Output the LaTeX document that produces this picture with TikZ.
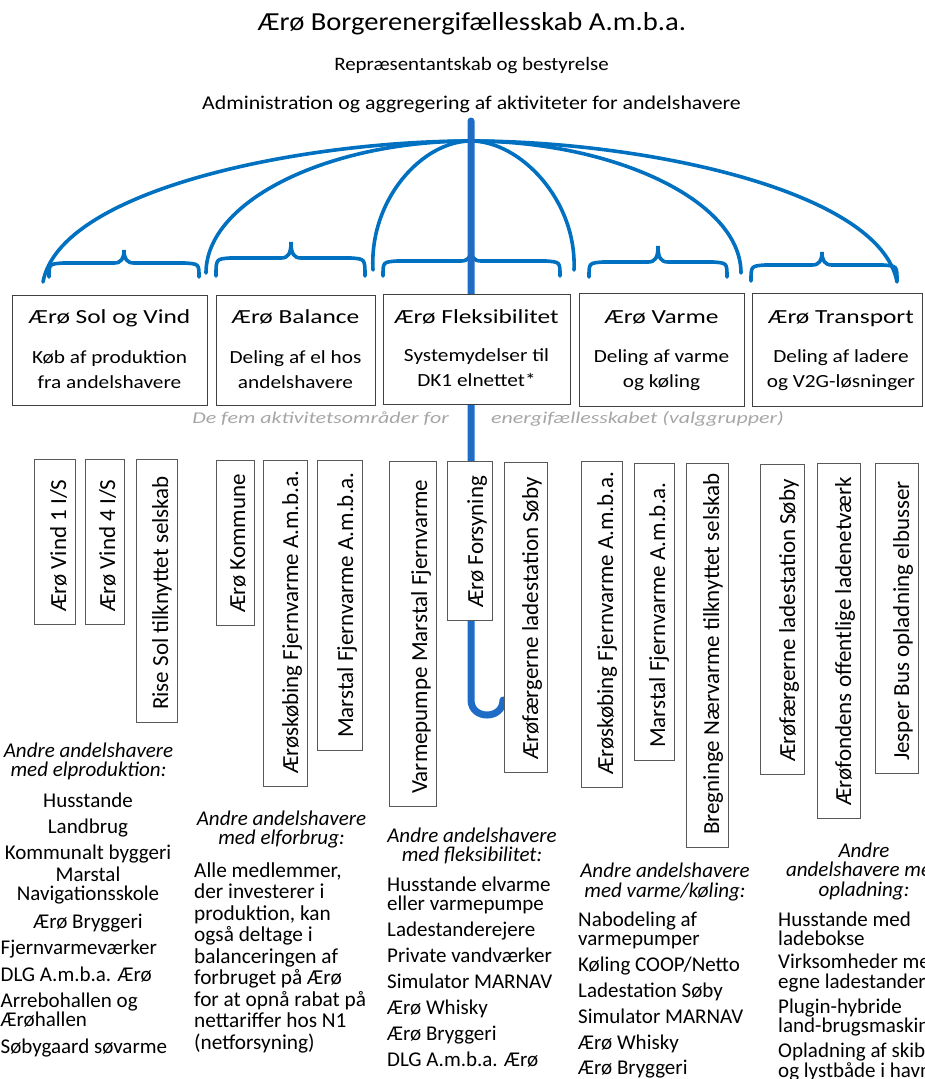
\documentclass[tikz,border=0pt]{standalone}
\usepackage{fontspec}
\setmainfont{Carlito}
\newfontfamily\fTitle{Carlito}[FakeStretch=1.1]
\newfontfamily\fHead{Carlito}[FakeStretch=1.1]
\newfontfamily\fHeadB{Carlito}[FakeStretch=1.12]
\newfontfamily\fBoxT{Carlito}[FakeStretch=1.27]
\newfontfamily\fBoxD{Carlito}[FakeStretch=1.15]
\newfontfamily\fLabel{Carlito}[FakeStretch=1.33]
\definecolor{umb}{HTML}{0070C0}
\definecolor{polec}{HTML}{1F6CC6}
\definecolor{lbl}{HTML}{A6A6A6}
\definecolor{bord}{HTML}{404040}
\definecolor{vbord}{HTML}{595959}
\tikzset{
  rib/.style={draw=umb, line width=3.6pt, line cap=round},
  polestyle/.style={draw=polec, line width=7pt},
  topbox/.style={draw=bord, line width=1pt, fill=white, inner sep=0pt, anchor=north west},
  vbox/.style={draw=vbord, line width=1pt, fill=white, inner sep=0pt},
  vtext/.style={inner sep=0pt, font=\fontsize{23}{23}\selectfont},
  plain/.style={inner sep=0pt},
}
\newcommand{\vb}[6]{%
  \node[vbox, anchor=north west, minimum width={#3-#2}, minimum height={#5-#4}] (#1) at (#2,#4) {};
  \node[vtext, rotate=90, anchor=base west] (#1t) at ({#3-9},{#5-12}) {#6};
}
\newcommand{\brc}[6]{%
  \draw[rib] (#1,#5) .. controls (#1,{#4+1}) .. ({#1+14},#4) -- ({#3-10},#4)
    .. controls ({#3-3},#4) and (#3,{#4-4}) .. (#3,#6)
    .. controls (#3,{#4-4}) and ({#3+3},#4) .. ({#3+10},#4) -- ({#2-14},#4)
    .. controls (#2,{#4+1}) .. (#2,#5);
}
\newcommand{\bt}[3]{% name, center x, title
  \node[plain, anchor=base, font=\fBoxT\fontsize{20}{24}\selectfont] (#1) at (#2,323) {#3};}
\newcommand{\bd}[4]{% name, center x, baseline, text
  \node[plain, anchor=base] (#1) at (#2,#3) {\parbox[t]{170pt}{\centering\fBoxD\fontsize{18.5}{25}\selectfont #4}};}
\begin{document}
\begin{tikzpicture}[x=1pt,y=-1pt]
\useasboundingbox (0,0) rectangle (924,1079);
% header texts
\node[plain, anchor=base, font=\fTitle\fontsize{26}{30}\selectfont] (title) at (472,30) {Ærø Borgerenergifællesskab A.m.b.a.};
\node[plain, anchor=base, font=\fHead\fontsize{19}{22}\selectfont] (repr) at (471.5,70) {Repræsentantskab og bestyrelse};
\node[plain, anchor=base, font=\fHeadB\fontsize{19.5}{22}\selectfont] (admin) at (471.5,109) {Administration og aggregering af aktiviteter for andelshavere};
% umbrella
\coordinate (apex) at (471,141);
\draw[rib] (apex) .. controls (300,141) and (60,190) .. (43,282);
\draw[rib] (apex) .. controls (330,141) and (206,200) .. (206,273);
\draw[rib] (apex) .. controls (422,141) and (369,200) .. (373,270);
\draw[rib] (apex) .. controls (520,141) and (577,200) .. (574,270);
\draw[rib] (apex) .. controls (612,141) and (741,200) .. (741,273);
\draw[rib] (apex) .. controls (642,141) and (880,190) .. (897,282);
\brc{49}{199}{124}{263}{277}{250}
\brc{216}{365}{291}{258}{276}{242}
\brc{383}{560}{471}{261}{276}{249}
\brc{589}{727}{658}{262}{277}{246}
\brc{751}{897}{822}{265}{281}{252}
% pole
\coordinate (poletop) at (471,121);
\coordinate (polebot) at (471,700);
\coordinate (hookend) at (503,700);
\draw[polestyle, line cap=round] (poletop) -- (polebot) .. controls (471,720) and (503,720) .. (hookend);
% top boxes
\node[topbox, minimum width=195pt, minimum height=110pt] (b1) at (12,295) {};
\node[topbox, minimum width=159pt, minimum height=110pt] (b2) at (216,295) {};
\node[topbox, minimum width=187pt, minimum height=110pt] (b3) at (383,294) {};
\node[topbox, minimum width=165pt, minimum height=113pt] (b4) at (579,293) {};
\node[topbox, minimum width=170pt, minimum height=113pt] (b5) at (752,293) {};
\bt{t1}{109.5}{Ærø Sol og Vind}
\bt{t2}{295.5}{Ærø Balance}
\bt{t3}{476.5}{Ærø Fleksibilitet}
\bt{t4}{661.5}{Ærø Varme}
\bt{t5}{841}{Ærø Transport}
\bd{d1}{109.5}{363}{Køb af produktion\\fra andelshavere}
\bd{d2}{295.5}{363}{Deling af el hos\\andelshavere}
\bd{d3}{476.5}{361}{Systemydelser til\\DK1 elnettet*}
\bd{d4}{661.5}{362}{Deling af varme\\og køling}
\bd{d5}{841}{362}{Deling af ladere\\og V2G-løsninger}
\node[plain, anchor=base east, text=lbl, font=\fLabel\itshape\fontsize{16.5}{20}\selectfont] (lblA) at (449,423) {De fem aktivitetsområder for};
\node[plain, anchor=base west, text=lbl, font=\fLabel\itshape\fontsize{16.5}{20}\selectfont] (lblB) at (491,423) {energifællesskabet (valggrupper)};
% vertical boxes
\vb{v1}{34}{75}{459}{624}{Ærø Vind 1 I/S}
\vb{v2}{85}{124}{459}{624}{Ærø Vind 4 I/S}
\vb{v3}{136}{177}{459}{722}{Rise Sol tilknyttet selskab}
\vb{v4}{216}{254}{460}{625}{Ærø Kommune}
\vb{v5}{263}{307}{460}{786}{Ærøskøbing Fjernvarme A.m.b.a.}
\vb{v6}{317}{362}{460}{750}{Marstal Fjernvarme A.m.b.a.}
\vb{v7}{389}{436}{461}{806}{Varmepumpe Marstal Fjernvarme}
\vb{v8}{447}{492}{461}{620}{Ærø Forsyning}
\vb{v9}{504}{547}{462}{772}{Ærøfærgerne ladestation Søby}
\vb{v10}{581}{622}{461}{787}{Ærøskøbing Fjernvarme A.m.b.a.}
\vb{v11}{634}{674}{463}{760}{Marstal Fjernvarme A.m.b.a.}
\vb{v12}{686}{728}{463}{847}{Bregninge Nærvarme tilknyttet selskab}
\vb{v13}{760}{804}{464}{774}{Ærøfærgerne ladestation Søby}
\vb{v14}{817}{860}{463}{818}{Ærøfondens offentlige ladenetværk}
\vb{v15}{875}{918}{463}{773}{Jesper Bus opladning elbusser}
% lists
\node[plain, anchor=base] (h1) at (88.5,757) {\parbox[t]{174pt}{\centering\itshape\fontsize{21}{19.5}\selectfont Andre andelshavere\\med elproduktion:}};
\node[plain, anchor=base] (l1a) at (88,807) {\parbox[t]{174pt}{\centering\fontsize{21}{19.5}\selectfont Husstande\\[6.5pt]Landbrug\\[6.5pt]Kommunalt byggeri\\[2.5pt]Marstal\\Navigationsskole\\[8.5pt]Ærø Bryggeri}};
\node[plain, anchor=base west] (l1b) at (0.5,954) {\parbox[t]{172pt}{\raggedright\fontsize{21}{19.5}\selectfont Fjernvarmeværker\\[7.5pt]DLG A.m.b.a. Ærø\\[6.5pt]Arrebohallen og\\Ærøhallen\\[7.5pt]Søbygaard søvarme}};
\node[plain, anchor=base] (h2) at (281.5,825) {\parbox[t]{174pt}{\centering\itshape\fontsize{21}{19.5}\selectfont Andre andelshavere\\med elforbrug:}};
\node[plain, anchor=base west] (l2) at (194,877) {\parbox[t]{180pt}{\raggedright\fontsize{21.3}{21.5}\selectfont Alle medlemmer,\\der investerer i\\produktion, kan\\også deltage i\\balanceringen af\\forbruget på Ærø\\for at opnå rabat på\\nettariffer hos N1\\(netforsyning)}};
\node[plain, anchor=base] (h3) at (472,842) {\parbox[t]{174pt}{\centering\itshape\fontsize{21}{19.5}\selectfont Andre andelshavere\\med fleksibilitet:}};
\node[plain, anchor=base west] (l3) at (387,891) {\parbox[t]{180pt}{\raggedright\fontsize{21}{19.5}\selectfont Husstande elvarme\\eller varmepumpe\\[6.5pt]Ladestanderejere\\[6.5pt]Private vandværker\\[6.5pt]Simulator MARNAV\\[6.5pt]Ærø Whisky\\[6.5pt]Ærø Bryggeri\\[6.5pt]DLG A.m.b.a. Ærø}};
\node[plain, anchor=base] (h4) at (665,877) {\parbox[t]{174pt}{\centering\itshape\fontsize{21}{20}\selectfont Andre andelshavere\\med varme/køling:}};
\node[plain, anchor=base west] (l4) at (578,926) {\parbox[t]{180pt}{\raggedright\fontsize{21}{19.5}\selectfont Nabodeling af\\varmepumper\\[6.5pt]Køling COOP/Netto\\[6.5pt]Ladestation Søby\\[6.5pt]Simulator MARNAV\\[6.5pt]Ærø Whisky\\[5.5pt]Ærø Bryggeri}};
\node[plain, anchor=base] (h5) at (864,857) {\parbox[t]{174pt}{\centering\itshape\fontsize{21}{19.5}\selectfont Andre\\andelshavere med\\opladning:}};
\node[plain, anchor=base west] (l5) at (778,926) {\parbox[t]{190pt}{\raggedright\fontsize{21}{19.5}\selectfont Husstande med\\ladebokse\\[3.5pt]Virksomheder med\\egne ladestandere\\[5.5pt]Plugin-hybride\\land-brugsmaskiner\\[5.5pt]Opladning af skibe\\og lystbåde i havn}};
\end{tikzpicture}
\end{document}
